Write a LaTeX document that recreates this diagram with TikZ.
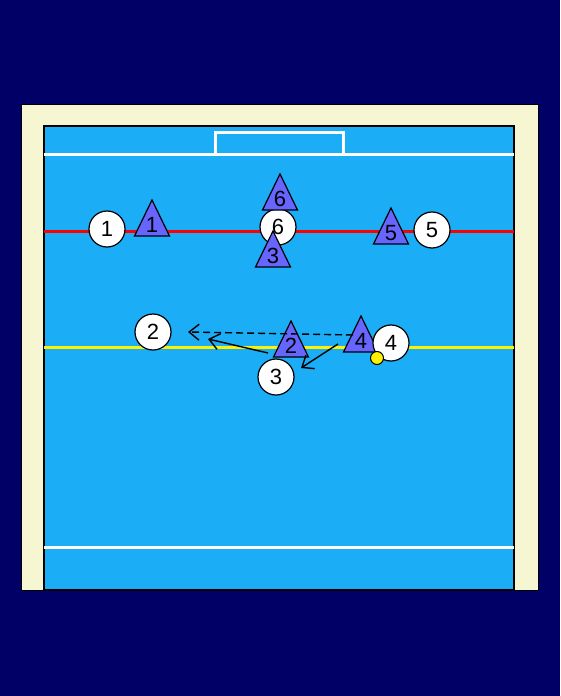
\documentclass[tikz,border=0pt]{standalone}
\usepackage{fontspec}
\setmainfont{Liberation Sans}
\usetikzlibrary{arrows.meta}
\definecolor{navy}{RGB}{0,0,102}
\definecolor{beige}{RGB}{246,246,210}
\definecolor{field}{RGB}{27,173,246}
\definecolor{tricol}{RGB}{102,102,255}
\tikzset{
  player/.style={circle,draw=black,fill=white,line width=1.2pt,minimum size=36pt,inner sep=0pt,font=\fontsize{22}{22}\selectfont},
  tribox/.style={draw=black,fill=tricol,line width=1.2pt,line join=miter},
  trilabel/.style={inner sep=0pt,font=\fontsize{22}{22}\selectfont},
  move/.style={line width=1.4pt,-{Straight Barb[length=10pt,width=16pt,line width=1.4pt]}},
  pass/.style={move,dash pattern=on 7pt off 4pt}
}
\newcommand\oppo[4]{% name, base x, base y, label
  \draw[tribox] (#2-17.5,#3) -- (#2,#3-36) -- (#2+17.5,#3) -- cycle;
  \node[trilabel] (#1) at (#2,#3-11) {#4};
}
\begin{document}
\begin{tikzpicture}[x=1pt,y=-1pt]
\fill[navy] (0,0) rectangle (560,696);
\useasboundingbox (0,0) rectangle (560,696);
% court
\draw[fill=beige,draw=black,line width=1pt] (21,104) rectangle (538,590);
\draw[fill=field,draw=black,line width=1.5pt] (44,126) rectangle (514,590);
\draw[white,line width=3pt] (44,154) -- (514,154);
\draw[white,line width=3pt] (44,547) -- (514,547);
\draw[white,line width=3pt] (215,154) -- (215,132) -- (343,132) -- (343,154);
\draw[red,line width=3pt] (44,231) -- (514,231);
\draw[yellow,line width=3pt] (44,347) -- (514,347);
% attackers
\node[player] (c1) at (107,229) {1};
\node[player] (c6) at (278,227) {6};
\node[player] (c5) at (432,230) {5};
\node[player] (c2) at (153,332) {2};
\node[player] (c3) at (276,377) {3};
% defenders
\oppo{t1}{152}{236}{1}
\oppo{t6}{280}{210}{6}
\oppo{t3}{273}{267}{3}
\oppo{t5}{391}{244}{5}
\oppo{t2}{291}{357}{2}
\oppo{t4}{361}{352}{4}
\node[player] (c4) at (391,343) {4};
% ball
\node[circle,draw=black,fill=yellow,line width=1pt,minimum size=13pt,inner sep=0pt] (ball) at (377,358) {};
% movements
\coordinate (p1s) at (353,335);
\coordinate (p1e) at (188,332);
\coordinate (m1s) at (268,353);
\coordinate (m1e) at (208,339);
\coordinate (m2s) at (338,344);
\coordinate (m2e) at (301,368);
\draw[pass] (p1s) -- (p1e);
\draw[move] (m1s) -- (m1e);
\draw[move] (m2s) -- (m2e);
\end{tikzpicture}
\end{document}
